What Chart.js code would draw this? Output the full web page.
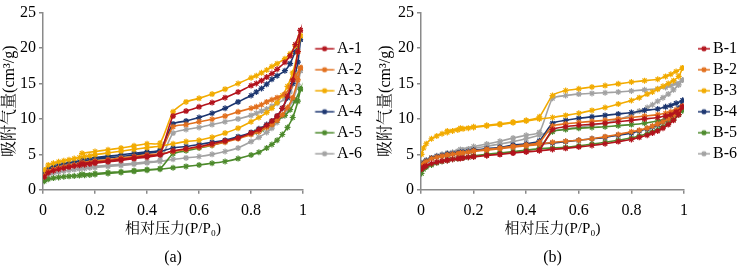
<!DOCTYPE html>
<html>
<head>
<meta charset="utf-8">
<script src="https://cdn.jsdelivr.net/npm/chart.js@4.4.0/dist/chart.umd.min.js"></script>
<style>
html, body { margin: 0; padding: 0; background: #fff; overflow: hidden; width: 744px; height: 269px; }
#boxA { position: absolute; left: 0; top: 0; width: 372px; height: 269px; }
#boxB { position: absolute; left: 372px; top: 0; width: 372px; height: 269px; overflow: hidden; }
</style>
</head>
<body>
<div id="boxA"><canvas id="chartA" width="372" height="269"></canvas></div>
<div id="boxB"><canvas id="chartB" width="376" height="269"></canvas></div>
<script>
// relative pressure points, panel (a)
var pAdsA = [0.005, 0.02, 0.04, 0.06, 0.08, 0.1, 0.12, 0.14, 0.16, 0.18, 0.2, 0.25, 0.3, 0.35, 0.4, 0.45,
             0.5, 0.55, 0.6, 0.65, 0.7, 0.75, 0.8, 0.83, 0.86, 0.88, 0.9, 0.92, 0.94, 0.96, 0.98, 0.99];
var pDesA = [0.99, 0.97, 0.95, 0.93, 0.9, 0.88, 0.86, 0.84, 0.82, 0.8, 0.75, 0.7, 0.65, 0.6, 0.55, 0.5,
             0.45, 0.4, 0.35, 0.3, 0.25, 0.2, 0.15];

// adsorption / desorption branches (cm3/g)
var a1Ads = [1.8, 2.4, 2.7, 2.9, 3.05, 3.2, 3.35, 3.45, 3.55, 3.65, 3.75, 3.95, 4.15, 4.4, 4.6, 4.9,
             5.5, 5.8, 6.1, 6.5, 6.9, 7.3, 8.0, 8.5, 9.1, 9.7, 10.4, 11.5, 13.2, 15.5, 19.5, 22.5];
var a1Des = [22.5, 20.5, 18.9, 18.0, 17.0, 16.4, 15.9, 15.4, 15.0, 14.7, 13.8, 13.0, 12.3, 11.7, 11.1, 10.4,
             5.1, 4.8, 4.55, 4.3, 4.1, 3.9, 3.7];
var a2Ads = [2.0, 2.6, 2.9, 3.1, 3.25, 3.4, 3.5, 3.6, 3.7, 3.8, 3.9, 4.1, 4.3, 4.5, 4.75, 5.0,
             5.4, 5.7, 6.0, 6.3, 6.7, 7.2, 7.8, 8.2, 8.8, 9.2, 9.8, 10.6, 11.6, 13.0, 15.5, 17.2];
var a2Des = [17.2, 16.0, 14.5, 13.5, 13.0, 12.7, 12.4, 12.0, 11.7, 11.5, 11.0, 10.4, 9.95, 9.6, 9.2, 8.9,
             5.2, 4.95, 4.7, 4.5, 4.25, 4.05, 3.85];
var a3Ads = [2.8, 3.5, 3.75, 3.95, 4.1, 4.25, 4.4, 4.55, 4.7, 4.8, 4.95, 5.2, 5.45, 5.7, 5.95, 6.15,
             6.5, 6.8, 7.0, 7.4, 8.0, 8.7, 9.6, 10.2, 10.9, 11.5, 12.3, 13.3, 14.6, 16.5, 19.5, 21.7];
var a3Des = [21.7, 20.3, 19.2, 18.5, 17.8, 17.4, 16.9, 16.5, 16.1, 15.8, 15.0, 14.2, 13.5, 12.9, 12.4, 11.0,
             6.6, 6.5, 6.2, 5.9, 5.65, 5.4, 5.15];
var a4Ads = [2.3, 3.0, 3.3, 3.5, 3.65, 3.8, 3.9, 4.0, 4.1, 4.2, 4.3, 4.5, 4.7, 4.9, 5.15, 5.4,
             5.9, 6.1, 6.4, 6.7, 7.0, 7.5, 8.1, 8.6, 9.2, 9.7, 10.4, 11.5, 13.0, 15.0, 18.0, 21.2];
var a4Des = [21.2, 19.5, 17.8, 16.8, 16.1, 15.6, 14.9, 14.3, 13.8, 13.3, 12.4, 11.5, 10.8, 10.2, 9.7, 9.3,
             5.6, 5.35, 5.15, 4.95, 4.75, 4.55, 4.35];
var a5Ads = [1.2, 1.5, 1.65, 1.75, 1.85, 1.9, 1.95, 2.0, 2.05, 2.1, 2.15, 2.3, 2.45, 2.6, 2.75, 2.9,
             3.1, 3.3, 3.5, 3.75, 4.0, 4.4, 4.9, 5.3, 5.9, 6.4, 7.0, 7.8, 8.8, 10.2, 12.5, 14.2];
var a5Des = [14.2, 12.6, 11.3, 10.5, 9.8, 9.3, 8.9, 8.5, 8.2, 7.9, 7.3, 6.8, 6.3, 5.9, 5.5, 5.1,
             3.0, 2.85, 2.7, 2.55, 2.45, 2.3, 2.2];
var a6Ads = [1.6, 2.1, 2.35, 2.5, 2.65, 2.75, 2.85, 2.95, 3.0, 3.1, 3.15, 3.3, 3.45, 3.6, 3.8, 4.0,
             4.3, 4.5, 4.7, 5.0, 5.4, 5.9, 6.8, 7.4, 8.1, 8.7, 9.5, 10.4, 11.3, 12.6, 14.8, 16.8];
var a6Des = [16.8, 15.5, 13.8, 12.8, 12.2, 11.8, 11.4, 11.1, 10.8, 10.5, 10.0, 9.6, 9.2, 8.8, 8.5, 8.0,
             4.2, 3.95, 3.75, 3.6, 3.45, 3.3, 3.15];

// relative pressure points, panel (b)
var pAdsB = [0.002, 0.01, 0.02, 0.04, 0.06, 0.08, 0.1, 0.12, 0.14, 0.16, 0.18, 0.2, 0.25, 0.3, 0.35, 0.4, 0.45,
             0.5, 0.55, 0.6, 0.65, 0.7, 0.75, 0.8, 0.83, 0.86, 0.88, 0.9, 0.92, 0.94, 0.96, 0.98, 0.995];
var pDesB = [0.995, 0.97, 0.95, 0.93, 0.9, 0.85, 0.8, 0.75, 0.7, 0.65, 0.6, 0.55, 0.5,
             0.45, 0.4, 0.35, 0.3, 0.25, 0.2, 0.15, 0.1];

var b1Ads = [2.9, 3.2, 3.4, 3.7, 3.9, 4.05, 4.2, 4.3, 4.4, 4.5, 4.6, 4.7, 4.85, 5.0, 5.2, 5.35, 5.5,
             5.7, 5.85, 6.05, 6.25, 6.5, 6.8, 7.1, 7.4, 7.7, 8.0, 8.3, 8.7, 9.2, 9.8, 10.6, 11.7];
var b1Des = [11.7, 11.0, 10.6, 10.4, 10.2, 10.0, 9.8, 9.6, 9.4, 9.25, 9.1, 8.9, 8.5,
             5.6, 5.4, 5.2, 5.0, 4.85, 4.65, 4.4, 4.15];
var b2Ads = [3.2, 3.7, 4.0, 4.4, 4.6, 4.75, 4.9, 5.0, 5.1, 5.2, 5.3, 5.4, 5.6, 5.8, 6.0, 6.2, 6.4,
             6.7, 6.85, 7.0, 7.2, 7.5, 7.8, 8.2, 8.4, 8.7, 9.0, 9.3, 9.6, 10.0, 10.5, 11.2, 11.8];
var b2Des = [11.8, 11.3, 11.0, 10.8, 10.6, 10.4, 10.2, 10.0, 9.8, 9.65, 9.5, 9.3, 9.0,
             6.7, 6.35, 6.15, 5.9, 5.7, 5.5, 5.2, 4.9];
var b3Ads = [5.0, 5.9, 6.5, 7.2, 7.6, 7.9, 8.1, 8.3, 8.45, 8.6, 8.7, 8.8, 9.0, 9.2, 9.45, 9.7, 10.0,
             10.2, 10.5, 10.8, 11.2, 11.6, 12.1, 12.6, 13.0, 13.5, 13.8, 14.2, 14.6, 15.0, 15.4, 16.0, 17.2];
var b3Des = [17.2, 16.7, 16.3, 16.0, 15.6, 15.4, 15.2, 14.95, 14.7, 14.5, 14.25, 14.0, 13.3,
             10.3, 9.8, 9.55, 9.3, 9.1, 8.9, 8.7, 8.3];
var b4Ads = [3.3, 3.8, 4.1, 4.5, 4.7, 4.85, 5.0, 5.1, 5.2, 5.3, 5.4, 5.5, 5.7, 5.9, 6.1, 6.3, 6.5,
             6.6, 6.8, 7.0, 7.2, 7.4, 7.7, 8.0, 8.3, 8.6, 8.9, 9.2, 9.6, 10.0, 10.6, 11.5, 12.6];
var b4Des = [12.6, 12.2, 11.9, 11.7, 11.4, 11.2, 10.9, 10.7, 10.5, 10.3, 10.1, 9.8, 9.4,
             6.9, 6.5, 6.3, 6.0, 5.8, 5.6, 5.3, 5.0];
var b5Ads = [2.3, 2.9, 3.2, 3.5, 3.8, 4.0, 4.15, 4.3, 4.4, 4.5, 4.6, 4.75, 4.95, 5.15, 5.35, 5.55, 5.8,
             5.9, 6.0, 6.2, 6.45, 6.7, 7.0, 7.3, 7.6, 7.9, 8.2, 8.5, 8.9, 9.4, 9.9, 10.6, 11.2];
var b5Des = [11.2, 10.6, 10.2, 10.0, 9.7, 9.4, 9.2, 9.05, 8.9, 8.8, 8.7, 8.5, 8.2,
             5.9, 5.6, 5.4, 5.2, 5.0, 4.8, 4.55, 4.3];
var b6Ads = [3.4, 3.9, 4.2, 4.5, 4.8, 5.0, 5.15, 5.3, 5.45, 5.6, 5.75, 5.85, 6.15, 6.45, 6.8, 7.2, 7.7,
             8.3, 8.6, 8.8, 9.1, 9.4, 9.9, 10.6, 11.1, 11.6, 12.0, 12.5, 13.0, 13.5, 14.1, 14.8, 15.5];
var b6Des = [15.5, 15.0, 14.7, 14.45, 14.25, 14.1, 13.95, 13.8, 13.7, 13.6, 13.5, 13.3, 12.9,
             8.1, 7.7, 7.3, 6.85, 6.45, 6.1, 5.7, 5.2];

var namesA = ['A-1', 'A-2', 'A-3', 'A-4', 'A-5', 'A-6'];
var namesB = ['B-1', 'B-2', 'B-3', 'B-4', 'B-5', 'B-6'];
var colors = ['#B3131C', '#E2701E', '#F2AB00', '#1C3670', '#4D8A2C', '#A2A2A2'];

var serif = "'Liberation Serif', 'Times New Roman', 'Noto Serif CJK SC', 'Noto Sans CJK SC', serif";

// little line + marker picture for the legend
function legendIcon(color, w, from, to) {
    var c = document.createElement('canvas');
    c.width = w;
    c.height = 8;
    var g = c.getContext('2d');
    g.strokeStyle = color;
    g.lineWidth = 1.5;
    g.beginPath();
    g.moveTo(from, 4);
    g.lineTo(to, 4);
    g.stroke();
    var mx = (from + to) / 2;
    g.lineWidth = 1.2;
    g.beginPath();
    for (var a = 0; a < 4; a++) {
        var ang = a * Math.PI / 4;
        g.moveTo(mx - 2.8 * Math.cos(ang), 4 - 2.8 * Math.sin(ang));
        g.lineTo(mx + 2.8 * Math.cos(ang), 4 + 2.8 * Math.sin(ang));
    }
    g.stroke();
    return c;
}

function makeChart(id, names, pAds, pDes, ads, des, caption, o) {
    var icons = [];
    var datasets = names.map(function (n, k) {
        icons.push(legendIcon(colors[k], o.iconW, o.lineFrom, o.lineTo));
        var pts = pAds.map(function (p, i) { return { x: p, y: ads[k][i] }; })
            .concat(pDes.map(function (p, i) { return { x: p, y: des[k][i] }; }));
        return {
            label: n,
            data: pts,
            borderColor: colors[k],
            backgroundColor: colors[k],
            borderWidth: 1.6,
            pointStyle: 'star',
            pointRadius: 3,
            pointBorderWidth: 1.2,
            tension: 0.2,
            fill: false
        };
    });

    new Chart(document.getElementById(id), {
        type: 'line',
        data: { datasets: datasets },
        options: {
            responsive: false,
            animation: false,
            layout: { padding: { top: 11, left: o.padLeft, right: o.padRight, bottom: 0 } },
            scales: {
                x: {
                    type: 'linear',
                    min: 0,
                    max: 1,
                    afterFit: function (s) { s.height = 58; },
                    ticks: {
                        stepSize: 0.2, padding: 7, maxRotation: 0, color: '#000',
                        font: { family: serif, size: 16 },
                        callback: function (v) { return String(Number(v.toFixed(1))); }
                    },
                    grid: { drawOnChartArea: false, drawTicks: true, tickLength: 4, color: '#8a8a8a', lineWidth: 1.5 },
                    border: { color: '#8a8a8a', width: 1.5 },
                    title: { display: true, text: '相对压力(P/P₀)', color: '#000', font: { family: serif, size: 15 }, padding: { top: 0, bottom: 10 } }
                },
                y: {
                    min: 0,
                    max: 25,
                    afterFit: function (s) { s.width = o.yWidth; },
                    ticks: { stepSize: 5, padding: 3, color: '#000', font: { family: serif, size: 16 } },
                    grid: { drawOnChartArea: false, drawTicks: true, tickLength: 4, color: '#8a8a8a', lineWidth: 1.5 },
                    border: { color: '#8a8a8a', width: 1.5 },
                    title: { display: true, text: '吸附气量(cm³/g)', color: '#000', font: { family: serif, size: 16 }, padding: { top: 0, bottom: 0 } }
                }
            },
            plugins: {
                tooltip: { enabled: false },
                title: {
                    display: true,
                    position: 'bottom',
                    fullSize: false,
                    text: caption,
                    color: '#000',
                    font: { family: serif, size: 16, weight: 'normal' },
                    padding: { top: 0, bottom: 2 }
                },
                legend: {
                    position: 'right',
                    fullSize: false,
                    labels: {
                        usePointStyle: true,
                        pointStyleWidth: o.boxW,
                        padding: 5,
                        color: '#000',
                        font: { family: serif, size: 16 },
                        generateLabels: function (chart) {
                            return chart.data.datasets.map(function (ds, i) {
                                return {
                                    text: ds.label,
                                    pointStyle: icons[i],
                                    fillStyle: ds.borderColor,
                                    strokeStyle: ds.borderColor,
                                    fontColor: '#000',
                                    lineWidth: 0,
                                    hidden: false,
                                    datasetIndex: i
                                };
                            });
                        }
                    }
                }
            }
        }
    });
}

makeChart('chartA', namesA, pAdsA, pDesA,
    [a1Ads, a2Ads, a3Ads, a4Ads, a5Ads, a6Ads],
    [a1Des, a2Des, a3Des, a4Des, a5Des, a6Des], '(a)',
    { padLeft: 0, padRight: 0, yWidth: 43, boxW: 21, iconW: 32, lineFrom: 12.5, lineTo: 31.5 });

makeChart('chartB', namesB, pAdsB, pDesB,
    [b1Ads, b2Ads, b3Ads, b4Ads, b5Ads, b6Ads],
    [b1Des, b2Des, b3Des, b4Des, b5Des, b6Des], '(b)',
    { padLeft: 4, padRight: 1, yWidth: 45, boxW: 16, iconW: 28, lineFrom: 15, lineTo: 27 });
</script>
</body>
</html>
